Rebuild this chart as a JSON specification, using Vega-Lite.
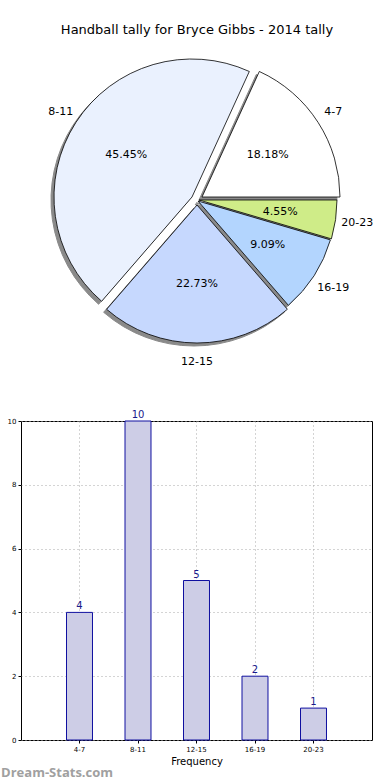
{
  "$schema": "https://vega.github.io/schema/vega-lite/v6.json",
  "padding": {"left": 0, "top": 24, "right": 0, "bottom": 0},
  "background": "white",
  "config": {"font": "DejaVu Sans", "view": {"stroke": null}},
  "datasets": {
    "tally": [
      {"range": "4-7", "count": 4, "ord": 1, "pct": "18.18%"},
      {"range": "8-11", "count": 10, "ord": 2, "pct": "45.45%"},
      {"range": "12-15", "count": 5, "ord": 3, "pct": "22.73%"},
      {"range": "16-19", "count": 2, "ord": 4, "pct": "9.09%"},
      {"range": "20-23", "count": 1, "ord": 5, "pct": "4.55%"}
    ]
  },
  "bounds": "flush",
  "spacing": 68,
  "vconcat": [
    {
      "width": 352,
      "height": 306,
      "data": {"name": "tally"},
      "title": {"text": "Handball tally for Bryce Gibbs - 2014 tally", "fontSize": 13, "fontWeight": "normal", "font": "DejaVu Sans", "offset": 10, "color": "black"},
      "view": {"stroke": null},
      "transform": [
        {"stack": "count", "groupby": [], "sort": [{"field": "ord", "order": "ascending"}], "as": ["t0", "t1"]}
      ],
      "layer": [
        {
          "mark": {"type": "arc", "outerRadius": 138, "fill": "#8a8a8a", "stroke": "#8a8a8a", "strokeWidth": 1},
          "encoding": {
            "theta": {"field": "t0", "type": "quantitative", "scale": {"domain": [0, 22], "range": [1.5708, -4.7124]}},
            "theta2": {"field": "t1"},
            "xOffset": {"field": "ord", "type": "quantitative", "scale": {"type": "linear", "domain": [1, 2, 3, 4, 5], "range": [2, -8, -3, -2, -1]}, "legend": null},
            "yOffset": {"field": "ord", "type": "quantitative", "scale": {"type": "linear", "domain": [1, 2, 3, 4, 5], "range": [0, 0, 8, 4, 3]}}
          }
        },
        {
          "mark": {"type": "arc", "outerRadius": 138, "stroke": "black", "strokeWidth": 0.8},
          "encoding": {
            "theta": {"field": "t0", "type": "quantitative", "scale": {"domain": [0, 22], "range": [1.5708, -4.7124]}},
            "theta2": {"field": "t1"},
            "color": {"field": "range", "type": "nominal", "scale": {"domain": ["4-7", "8-11", "12-15", "16-19", "20-23"], "range": ["#ffffff", "#eaf1fe", "#c6d8fe", "#b3d5fe", "#cfec88"]}, "legend": null},
            "xOffset": {"field": "ord", "type": "quantitative", "scale": {"type": "linear", "domain": [1, 2, 3, 4, 5], "range": [5, -5, 0, 1, 2]}},
            "yOffset": {"field": "ord", "type": "quantitative", "scale": {"type": "linear", "domain": [1, 2, 3, 4, 5], "range": [-3, -3, 5, 1, 0]}}
          }
        },
        {
          "mark": {"type": "text", "radius": 84, "fontSize": 11, "color": "black"},
          "encoding": {
            "theta": {"field": "count", "type": "quantitative", "stack": true, "scale": {"domain": [0, 22], "range": [1.5708, -4.7124]}},
            "order": {"field": "ord", "type": "quantitative"},
            "text": {"field": "pct", "type": "nominal"}
          }
        },
        {
          "mark": {"type": "text", "radius": 162, "fontSize": 11, "color": "black"},
          "encoding": {
            "theta": {"field": "count", "type": "quantitative", "stack": true, "scale": {"domain": [0, 22], "range": [1.5708, -4.7124]}},
            "order": {"field": "ord", "type": "quantitative"},
            "text": {"field": "range", "type": "nominal"}
          }
        }
      ],
      "resolve": {"scale": {"xOffset": "independent", "yOffset": "independent"}}
    },
    {
      "width": 351,
      "height": 319,
      "data": {"name": "tally"},
      "view": {"stroke": "black", "strokeWidth": 1},
      "title": {"text": "Dream-Stats.com", "orient": "bottom", "anchor": "start", "frame": "bounds", "fontSize": 13, "font": "Open Sans", "fontWeight": "bold", "color": "#a0a0a0", "offset": 1, "dx": -6},
      "encoding": {
        "x": {
          "field": "range", "type": "nominal", "sort": null,
          "scale": {"paddingInner": 0.556, "paddingOuter": 0.778},
          "axis": {"title": "Frequency", "titleFontSize": 10, "titleFontWeight": "normal", "titleColor": "black", "titlePadding": 4, "labelAngle": 0, "labelFontSize": 7, "labelColor": "black", "domain": false, "tickSize": 3, "tickColor": "black", "grid": true, "gridColor": "#a8a8a8", "gridDash": [1, 3]}
        },
        "y": {
          "field": "count", "type": "quantitative",
          "scale": {"domain": [0, 10], "nice": false},
          "axis": {"title": null, "values": [0, 2, 4, 6, 8, 10], "labelFontSize": 7, "labelColor": "black", "domain": false, "tickSize": 3, "tickColor": "black", "grid": true, "gridColor": "#a8a8a8", "gridDash": [1, 3]}
        }
      },
      "layer": [
        {"mark": {"type": "bar", "fill": "#cdcde6", "stroke": "#1010a0", "strokeWidth": 1}},
        {"mark": {"type": "text", "dy": -6, "fontSize": 10, "color": "#1a1a8c"}, "encoding": {"text": {"field": "count", "type": "quantitative"}}}
      ]
    }
  ]
}
